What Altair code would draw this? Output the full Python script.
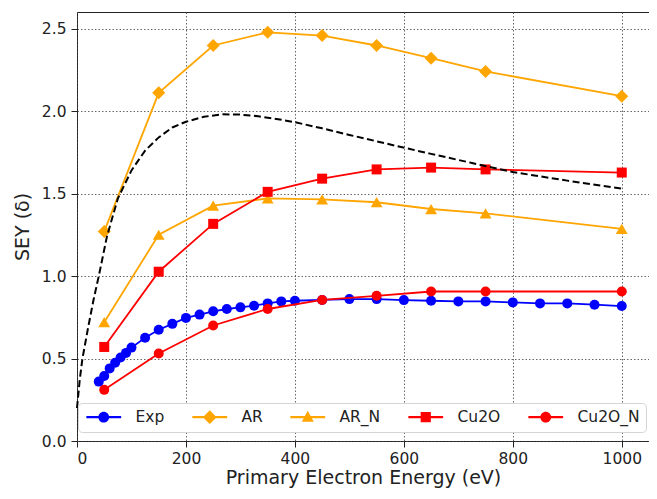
import altair as alt
import pandas as pd

# ---- data ----
series_names = ["Exp", "AR", "AR_N", "Cu2O", "Cu2O_N"]
series_colors = ["#0000ff", "#ffa500", "#ffa500", "#ff0000", "#ff0000"]
series_shapes = ["circle", "diamond", "triangle-up", "square", "circle"]
series_sizes = [100, 170, 140, 100, 100]

exp_energy = [40, 50, 60, 70, 80, 90, 100, 125, 150, 175, 200, 225, 250, 275, 300,
              325, 350, 375, 400, 450, 500, 550, 600, 650, 700, 750, 800, 850, 900, 950, 1000]
exp_sey = [0.36, 0.394, 0.44, 0.474, 0.506, 0.534, 0.566, 0.626, 0.674, 0.71, 0.746,
           0.766, 0.786, 0.80, 0.81, 0.82, 0.834, 0.846, 0.85, 0.855, 0.86, 0.86, 0.854,
           0.85, 0.846, 0.846, 0.84, 0.834, 0.834, 0.826, 0.818]

sim_energy = [50, 150, 250, 350, 450, 550, 650, 750, 1000]
ar_sey = [1.27, 2.11, 2.397, 2.477, 2.457, 2.397, 2.32, 2.24, 2.09]
ar_n_sey = [0.72, 1.25, 1.426, 1.47, 1.465, 1.447, 1.406, 1.38, 1.286]
cu2o_sey = [0.57, 1.026, 1.316, 1.51, 1.59, 1.646, 1.657, 1.646, 1.627]
cu2o_n_sey = [0.31, 0.53, 0.70, 0.80, 0.855, 0.88, 0.906, 0.906, 0.906]

model_energy = [0, 5, 10, 20, 30, 40, 55, 75, 100, 125, 150, 175, 200, 233, 266, 300,
                333, 366, 400, 450, 500, 575, 650, 725, 800, 900, 1000]
model_sey = [0.2, 0.37, 0.5, 0.68, 0.85, 1.0, 1.24, 1.47, 1.64, 1.76, 1.84, 1.90,
             1.935, 1.965, 1.98, 1.978, 1.968, 1.952, 1.932, 1.895, 1.855, 1.797,
             1.74, 1.685, 1.63, 1.578, 1.53]

x_ticks = [0, 200, 400, 600, 800, 1000]
y_ticks = [0.0, 0.5, 1.0, 1.5, 2.0, 2.5]

# ---- tables ----
rows = []
for e, s in zip(exp_energy, exp_sey):
    rows.append({"E": e, "SEY": s, "series": "Exp"})
for name, vals in zip(["AR", "AR_N", "Cu2O", "Cu2O_N"], [ar_sey, ar_n_sey, cu2o_sey, cu2o_n_sey]):
    for e, s in zip(sim_energy, vals):
        rows.append({"E": e, "SEY": s, "series": name})
df = pd.DataFrame(rows)
df_model = pd.DataFrame({"E": model_energy, "SEY": model_sey})

FONT = "DejaVu Sans"
x_scale = alt.Scale(domain=[0, 1050], nice=False, zero=False)
y_scale = alt.Scale(domain=[0, 2.6], nice=False, zero=False)
color_scale = alt.Scale(domain=series_names, range=series_colors)

x_enc = alt.X("E:Q", scale=x_scale,
              axis=alt.Axis(values=x_ticks, title="Primary Electron Energy (eV)", format="d"))
y_enc = alt.Y("SEY:Q", scale=y_scale,
              axis=alt.Axis(values=y_ticks, title="SEY (δ)", format=".1f"))

layers = []
for name, col, shp, sz in zip(series_names, series_colors, series_shapes, series_sizes):
    base = alt.Chart(df).transform_filter(alt.datum.series == name)
    layers.append(base.mark_line(strokeWidth=1.8, color=col).encode(
        x=x_enc, y=y_enc, order=alt.Order("E:Q")))
    layers.append(base.mark_point(filled=True, opacity=1, color=col, shape=shp, size=sz).encode(
        x=x_enc, y=y_enc))

model = alt.Chart(df_model).mark_line(
    color="black", strokeWidth=2, strokeDash=[7, 3.5]
).encode(x=x_enc, y=y_enc)
layers.append(model)

legend_paths = [
    "M-2.9,-0.17H2.9V0.17H-2.9Z M0.9,0A0.9,0.9 0 1,1 -0.9,0A0.9,0.9 0 1,1 0.9,0Z",
    "M-2.9,-0.17H2.9V0.17H-2.9Z M0,-1.15L1.15,0L0,1.15L-1.15,0Z",
    "M-2.9,-0.17H2.9V0.17H-2.9Z M0,-1.05L1,0.75L-1,0.75Z",
    "M-2.9,-0.17H2.9V0.17H-2.9Z M-0.85,-0.85H0.85V0.85H-0.85Z",
    "M-2.9,-0.17H2.9V0.17H-2.9Z M0.9,0A0.9,0.9 0 1,1 -0.9,0A0.9,0.9 0 1,1 0.9,0Z",
]

legend = alt.Legend(
    orient="none", legendX=1, legendY=391, direction="horizontal", columns=5,
    title=None, labelFont=FONT, labelFontSize=15.5, labelColor="#222222",
    symbolSize=144, symbolStrokeWidth=0, symbolOffset=12, labelOffset=24,
    columnPadding=25, padding=6, fillColor="white", strokeColor="#d5d5d5",
    cornerRadius=4, symbolOpacity=1,
)

ghost = alt.Chart(df).transform_filter("datum.E < 0").mark_point(filled=True).encode(
    x=x_enc, y=y_enc,
    fill=alt.Fill("series:N", scale=color_scale, legend=legend),
    shape=alt.Shape("series:N", scale=alt.Scale(domain=series_names, range=legend_paths),
                    legend=legend),
)
layers.append(ghost)

# whole chart: 69 + 572 = 641 wide, 4 + 429 + 50 = 483 tall (fits the 657x499 page)
chart = alt.layer(*layers).properties(
    width=572, height=429,
    autosize=alt.AutoSizeParams(type="none"),
    padding={"left": 69, "top": 4, "right": 0, "bottom": 50},
).configure_view(
    stroke="#222222", strokeWidth=1
).configure_axis(
    grid=True, gridColor="#444444", gridDash=[1.5, 2], gridWidth=0.9, gridOpacity=0.9,
    domain=False, tickColor="#222222", tickSize=6, tickWidth=1,
    labelFont=FONT, labelFontSize=15.5, labelColor="#222222", labelPadding=4,
    titleFont=FONT, titleFontSize=19, titleFontWeight="normal", titleColor="#222222",
).configure_axisY(titlePadding=9, labelPadding=5).configure_axisX(titlePadding=2)

chart.save("out.html", embed_options={"renderer": "svg", "actions": False})
